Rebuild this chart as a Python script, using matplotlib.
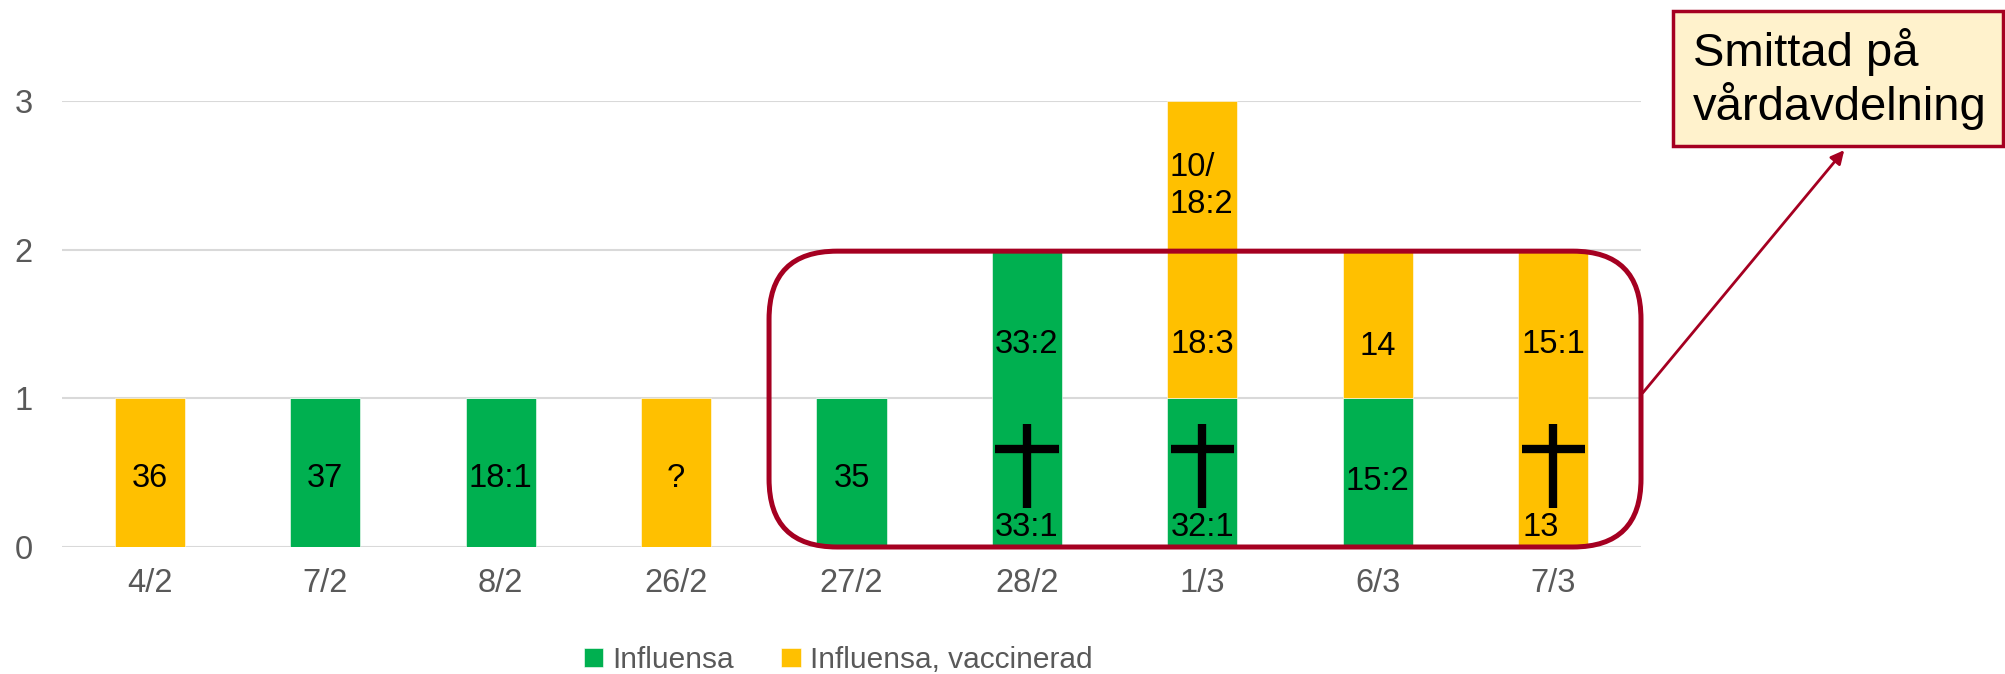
import matplotlib
matplotlib.use("Agg")
import matplotlib.pyplot as plt
from matplotlib.patches import FancyBboxPatch, Rectangle
from matplotlib.transforms import IdentityTransform
import numpy as np

plt.rcParams['font.family'] = ['Liberation Sans', 'DejaVu Sans']

categories = ["4/2", "7/2", "8/2", "26/2", "27/2", "28/2", "1/3", "6/3", "7/3"]
influensa = [0, 1, 1, 0, 1, 2, 1, 1, 0]
vaccinerad = [1, 0, 0, 1, 0, 0, 2, 1, 2]
# cell labels: (category index, y-centre in data units, text, alignment)
cell_labels = [
    (0, 0.46, "36", "center"),
    (1, 0.46, "37", "center"),
    (2, 0.46, "18:1", "center"),
    (3, 0.46, "?", "center"),
    (4, 0.46, "35", "center"),
    (5, 1.36, "33:2", "center"),
    (5, 0.13, "33:1", "center"),
    (6, 0.13, "32:1", "center"),
    (6, 1.36, "18:3", "center"),
    (6, 2.43, "10/\n18:2", "left"),
    (7, 0.44, "15:2", "center"),
    (7, 1.35, "14", "center"),
    (8, 1.36, "15:1", "center"),
    (8, 0.13, "13", "leftish"),
]
deaths = [5, 6, 8]

GREEN = "#00B050"
YELLOW = "#FFC000"
RED = "#A50021"
GRAY = "#595959"
FS = 23.5

W, H = 2006, 674
fig = plt.figure(figsize=(W / 100, H / 100), dpi=100)
ax = fig.add_axes([62 / W, 1 - 547 / H, (1641 - 62) / W, (547 - 101) / H])

x = np.arange(len(categories))
bw = 0.4
ax.bar(x, influensa, bw, color=GREEN, label="Influensa", edgecolor="white", linewidth=0.4, zorder=2)
ax.bar(x, vaccinerad, bw, bottom=influensa, color=YELLOW, label="Influensa, vaccinerad",
       edgecolor="white", linewidth=0.4, zorder=2)

ax.set_xlim(-0.5, len(categories) - 0.5)
ax.set_ylim(0, 3)
ax.set_yticks([0, 1, 2, 3])
ax.yaxis.grid(True, color="#D9D9D9", linewidth=1.5, zorder=0)
ax.set_axisbelow(True)
for s in ax.spines.values():
    s.set_visible(False)
ax.tick_params(axis="both", length=0, labelsize=FS, colors=GRAY)
ax.tick_params(axis="y", pad=21)
ax.tick_params(axis="x", pad=15)
ax.set_xticks(x)
ax.set_xticklabels(categories)

for i, yv, t, al in cell_labels:
    if al == "left":
        ax.text(x[i] - bw / 2 + 0.01, yv, t, ha="left", va="center", fontsize=FS, color="black",
                zorder=3, linespacing=1.25)
    elif al == "leftish":
        ax.text(x[i] - 0.07, yv, t, ha="center", va="center", fontsize=FS, color="black", zorder=3)
    else:
        ax.text(x[i], yv, t, ha="center", va="center", fontsize=FS, color="black", zorder=3)

# crosses
for i in deaths:
    ax.plot([x[i], x[i]], [0.26, 0.83], color="black", lw=6, solid_capstyle="butt", zorder=4)
    ax.plot([x[i] - 0.18, x[i] + 0.18], [0.66, 0.66], color="black", lw=6, solid_capstyle="butt", zorder=4)

# legend
leg = fig.legend(loc="center", bbox_to_anchor=(838 / W, 1 - 660 / H), ncol=2, frameon=False,
                 fontsize=21.5, handlelength=0.65, handleheight=0.65, handletextpad=0.3, columnspacing=1.6)
for t in leg.get_texts():
    t.set_color(GRAY)

# rounded highlight rectangle (display pixels)
fig.canvas.draw()
x0d, y0d = ax.transData.transform((3.53, 0.0))
x1d, y1d = ax.transData.transform((8.5, 1.99))
rr = FancyBboxPatch((x0d, y0d), x1d - x0d, y1d - y0d,
                    boxstyle="round,pad=0,rounding_size=68", transform=IdentityTransform(),
                    fill=False, edgecolor=RED, linewidth=3.6, zorder=5)
fig.patches.append(rr)

# callout box
box = Rectangle((1673 / W, 1 - 146 / H), (2003 - 1673) / W, (146 - 11) / H,
                transform=fig.transFigure, facecolor="#FFF2CC", edgecolor=RED, linewidth=2.5, zorder=6)
fig.patches.append(box)
fig.text(1693 / W, 1 - 79 / H, "Smittad på\nvårdavdelning", ha="left", va="center",
         fontsize=34, color="black", linespacing=1.15, zorder=7)

# arrow from the highlight rectangle to the callout box
ax.annotate("", xy=(1846 / W, 1 - 148 / H), xycoords="figure fraction",
            xytext=(x1d / W, 1 - 395 / H), textcoords="figure fraction",
            arrowprops=dict(arrowstyle="-|>,head_length=0.8,head_width=0.4", color=RED, lw=2),
            annotation_clip=False)

fig.savefig("out.png", dpi=100)
